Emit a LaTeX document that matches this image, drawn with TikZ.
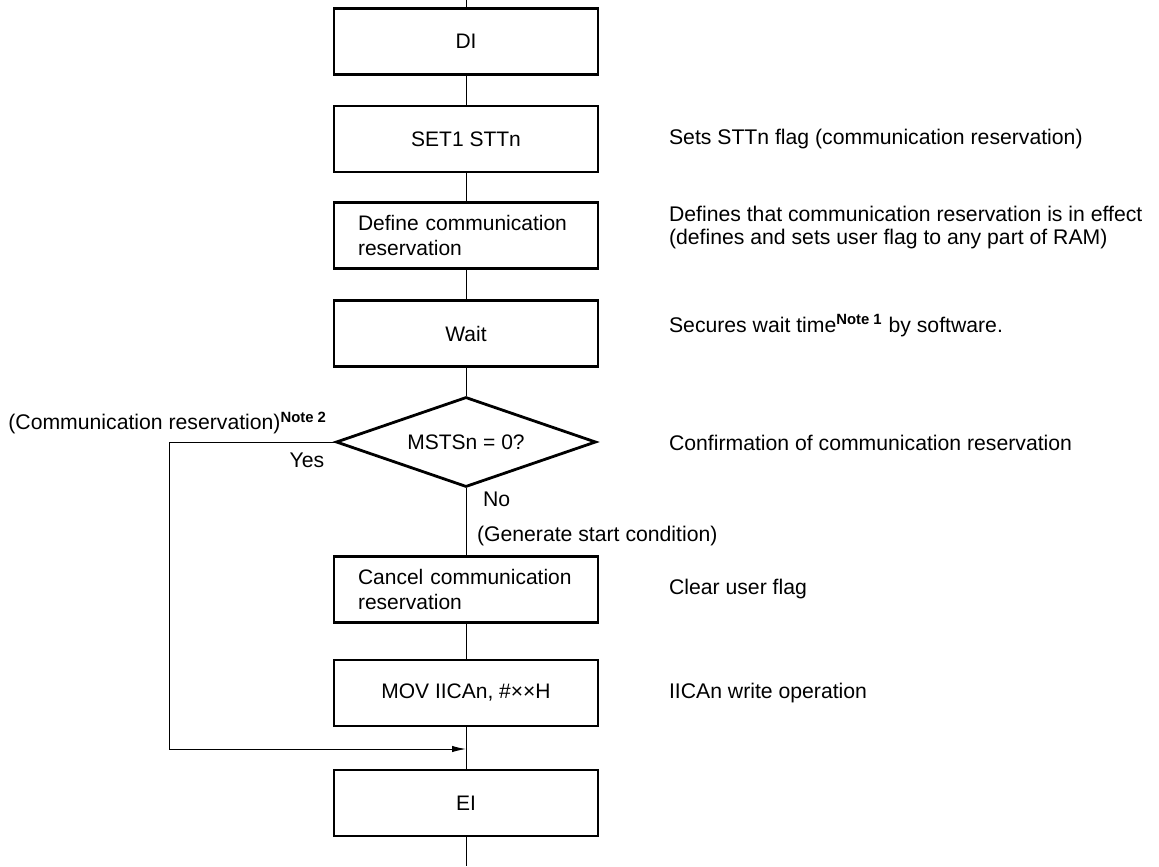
\documentclass[tikz,border=0pt]{standalone}
\usepackage{fontspec}
\setmainfont{Liberation Sans}
\usetikzlibrary{shapes.geometric, positioning, arrows.meta}

\begin{document}
\begin{tikzpicture}[x=0.5pt, y=-0.5pt,
		box/.style={draw, line width=1.4pt, minimum width=132pt, minimum height=33pt, inner sep=0pt, font=\fontsize{10.5}{12.5}\selectfont},
		boxl/.style={box, text width=108pt, align=left},
		cond/.style={diamond, draw, line width=1.4pt, aspect=2.9, minimum width=130pt, minimum height=45pt, inner sep=0pt, font=\fontsize{10.5}{12.5}\selectfont},
		note/.style={anchor=west, align=left, font=\fontsize{10.6}{11.5}\selectfont},
		lbl/.style={font=\fontsize{10.6}{12}\selectfont},
		flow/.style={line width=0.5pt}]
		\useasboundingbox (0,0) rectangle (1159,866);
		% Pasos del diagrama
		\node[box] (di) at (466,41.5) {DI};
		\node[box] (set) at (466,139) {SET1 STTn};
		\node[boxl] (def) at (466,235.5) {Define communication\\reservation};
		\node[box] (wait) at (466,333.5) {Wait};
		\node[cond] (chk) at (466,442) {MSTSn = 0?};
		\node[boxl] (cancel) at (466,589.5) {Cancel communication\\reservation};
		\node[box] (mov) at (466,693) {MOV IICAn, \#××H};
		\node[box] (ei) at (466,803) {EI};
		% Puntos libres de las lineas
		\coordinate (top) at (466,0);
		\coordinate (bot) at (466,866);
		\coordinate (yesc) at (169,442);
		\coordinate (join) at (466,749);
		% Lineas de flujo
		\draw[flow] (top) -- (di);
		\draw[flow] (di) -- (set);
		\draw[flow] (set) -- (def);
		\draw[flow] (def) -- (wait);
		\draw[flow] (wait) -- (chk);
		\draw[flow] (chk) -- (cancel);
		\draw[flow] (cancel) -- (mov);
		\draw[flow] (mov) -- (ei);
		\draw[flow] (ei) -- (bot);
		\draw[flow, -{Latex[length=7pt, width=3.2pt]}] (chk.west) -- (yesc) |- (join);
		% Etiquetas de las ramas
		\node[lbl] (yes) at (307,460) {Yes};
		\node[lbl, anchor=west] (no) at (476,499) {No};
		\node[lbl, anchor=west] (start) at (470,536) {(Generate start condition)};
		\node[lbl, anchor=east] (resv) at (334,423) {(Communication reservation)\textsuperscript{\bfseries Note 2}};
		% Comentarios a la derecha
		\node[note] (nset) at (662,139) {Sets STTn flag (communication reservation)};
		\node[note] (ndef) at (662,228) {Defines that communication reservation is in effect\\(defines and sets user flag to any part of RAM)};
		\node[note] (nwait) at (662,326) {Secures wait time\textsuperscript{\bfseries Note 1} by software.};
		\node[note] (nchk) at (662,443) {Confirmation of communication reservation};
		\node[note] (ncancel) at (662,589.5) {Clear user flag};
		\node[note] (nmov) at (662,693) {IICAn write operation};
	\end{tikzpicture}
\end{document}
